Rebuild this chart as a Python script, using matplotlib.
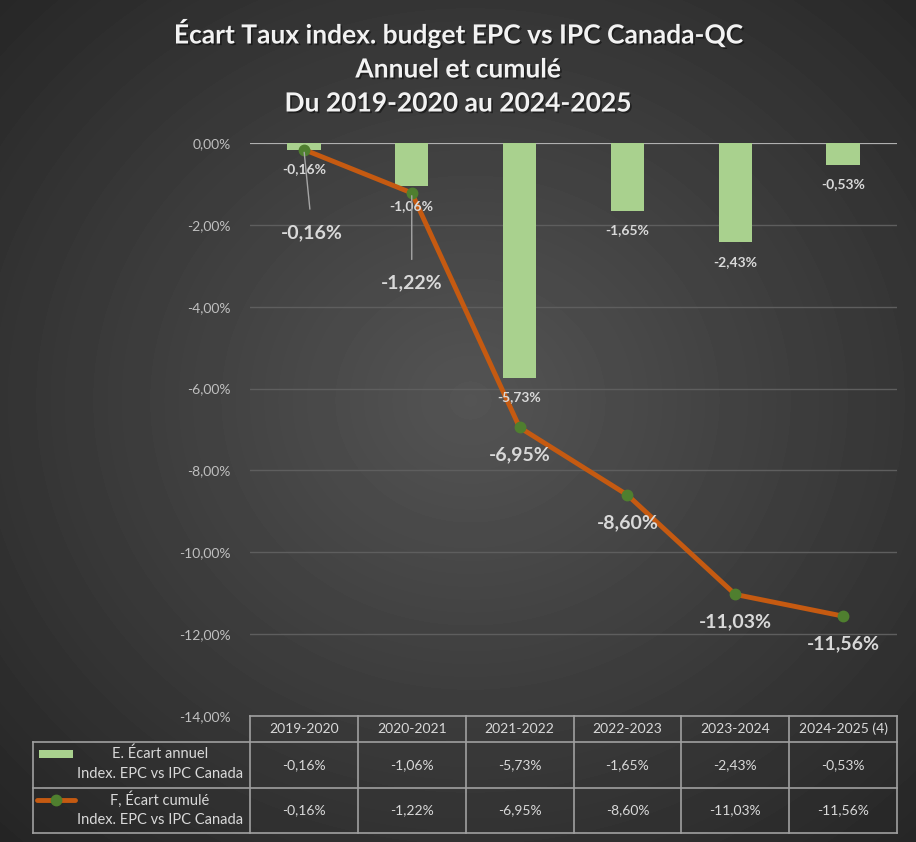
import matplotlib.pyplot as plt
import matplotlib.patheffects as pe
import numpy as np

plt.rcParams["font.family"] = ["Lato", "DejaVu Sans"]

categories = ["2019-2020", "2020-2021", "2021-2022", "2022-2023", "2023-2024", "2024-2025 (4)"]
annual = [-0.16, -1.06, -5.73, -1.65, -2.43, -0.53]
cumul = [-0.16, -1.22, -6.95, -8.60, -11.03, -11.56]
series_names = [("E. Écart annuel", "Index. EPC vs IPC Canada"),
                ("F, Écart cumulé", "Index. EPC vs IPC Canada")]
title = "Écart Taux index. budget EPC vs IPC Canada-QC\nAnnuel et cumulé\nDu 2019-2020 au 2024-2025"

GREEN = "#a9d18e"
ORANGE = "#c55a11"
DKGREEN = "#4f7f2f"
TXT = "#d9d9d9"
GRID = "#5e5e5e"
BORDER = "#a0a0a0"


def pct(v, dec=2):
    return f"{v:.{dec}f}%".replace(".", ",")


W, H = 916, 842
fig = plt.figure(figsize=(W / 100, H / 100), dpi=100)

# radial gradient background
bg = fig.add_axes([0, 0, 1, 1], zorder=-10)
yy, xx = np.mgrid[0:H, 0:W]
r = np.sqrt(((xx - 470) / 620) ** 2 + ((yy - 400) / 560) ** 2)
shade = np.clip(0.33 - 0.17 * r, 0.14, 0.33)
bg.imshow(shade, cmap="gray", vmin=0, vmax=1, aspect="auto", extent=[0, W, H, 0])
bg.axis("off")

L, R = 250 / W, 897 / W
ax = fig.add_axes([L, 1 - 716 / H, R - L, (716 - 143) / H])
ax.set_facecolor("none")
x = np.arange(len(categories))
ax.set_xlim(-0.5, len(categories) - 0.5)
ax.set_ylim(-14, 0)
ax.set_yticks(np.arange(-14, 0.1, 2))
ax.set_yticklabels([pct(v) for v in np.arange(-14, 0.1, 2)])
ax.tick_params(axis="y", colors="#bfbfbf", labelsize=10, length=0, pad=14)
ax.set_xticks([])
for s in ax.spines.values():
    s.set_visible(False)
ax.grid(axis="y", color=GRID, linewidth=1)
ax.set_axisbelow(True)
ax.axhline(0, color="#b0b0b0", linewidth=1.5, zorder=1)

ax.bar(x, annual, width=0.31, color=GREEN, zorder=2)
for xi, v in zip(x, annual):
    ax.annotate(pct(v), (xi, v), xytext=(0, -14), textcoords="offset points",
                ha="center", va="center", fontsize=10, fontweight="bold", color=TXT, zorder=5)

ax.plot(x, cumul, color=ORANGE, linewidth=3.5, zorder=3, solid_capstyle="round")
ax.plot(x, cumul, "o", color=DKGREEN, markersize=7.5, zorder=4)

offsets = [(6, -60), (0, -65), (0, -20), (0, -20), (0, -20), (0, -20)]
for i, (xi, v) in enumerate(zip(x, cumul)):
    dx, dy = offsets[i]
    arrow = None
    if i < 2:
        arrow = dict(arrowstyle="-", color="#a6a6a6", lw=1, shrinkA=9, shrinkB=2)
    ax.annotate(pct(v), (xi, v), xytext=(dx, dy), textcoords="offset points",
                ha="center", va="center", fontsize=14, fontweight="bold", color=TXT,
                arrowprops=arrow, zorder=5)

fig.text(0.5, 1 - 67 / H, title, ha="center", va="center", fontsize=19, fontweight="bold",
         color="#f2f2f2", linespacing=1.5,
         path_effects=[pe.withSimplePatchShadow(offset=(1.2, -1.2), shadow_rgbFace="black", alpha=0.45)])

# data table below the chart
tab = fig.add_axes([0, 0, 1, 1], zorder=1)
tab.set_xlim(0, W)
tab.set_ylim(H, 0)
tab.axis("off")
tab.patch.set_alpha(0)

col_w = (897 - 250) / len(categories)
rows = [716, 742, 788, 833]
left = 33
lc = dict(color=BORDER, linewidth=1.2)
tab.plot([250, 897], [rows[0], rows[0]], **lc)
for yl in rows[1:]:
    tab.plot([left, 897], [yl, yl], **lc)
tab.plot([left, left], [rows[1], rows[3]], **lc)
for j in range(len(categories) + 1):
    xe = 250 + j * col_w
    tab.plot([xe, xe], [rows[0], rows[3]], **lc)

for j, cat in enumerate(categories):
    cx = 250 + (j + 0.5) * col_w
    tab.text(cx, (rows[0] + rows[1]) / 2, cat, ha="center", va="center", fontsize=10, color=TXT)
    tab.text(cx, (rows[1] + rows[2]) / 2, pct(annual[j]), ha="center", va="center", fontsize=10, color=TXT)
    tab.text(cx, (rows[2] + rows[3]) / 2, pct(cumul[j]), ha="center", va="center", fontsize=10, color=TXT)

for k, (a, b) in enumerate(series_names):
    top = rows[1 + k]
    tab.text(160, top + 12, a, ha="center", va="center", fontsize=10.5, color=TXT)
    tab.text(160, top + 32, b, ha="center", va="center", fontsize=10.5, color=TXT)

tab.add_patch(plt.Rectangle((39, 750), 34, 8, facecolor=GREEN, edgecolor="none"))
tab.plot([37, 75], [800, 800], color=ORANGE, linewidth=3.5, solid_capstyle="round")
tab.plot([56], [800], "o", color=DKGREEN, markersize=7.5)

fig.savefig("out.png", dpi=100)
